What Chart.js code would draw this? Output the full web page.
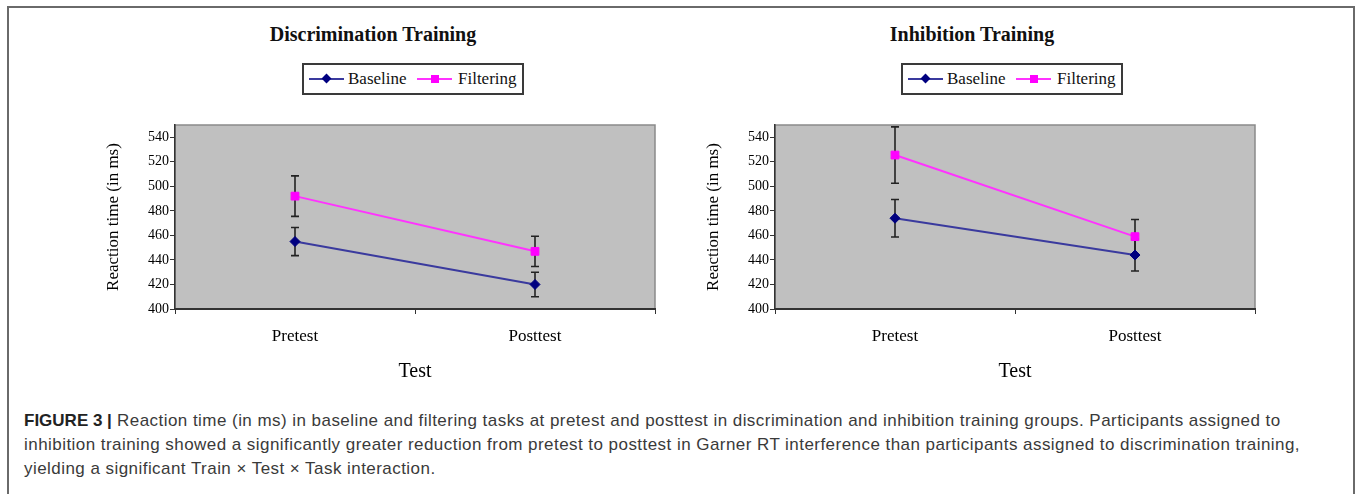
<!DOCTYPE html>
<html>
<head>
<meta charset="utf-8">
<script src="https://cdn.jsdelivr.net/npm/chart.js@4.4.0/dist/chart.umd.min.js"></script>
<style>
  html, body { margin: 0; padding: 0; background: #fff; }
  body { width: 1357px; height: 494px; position: relative; overflow: hidden; }
  .frame { position: absolute; left: 7px; top: 6px; width: 1348px; height: 540px; border: 2px solid #6a6a6a; box-sizing: border-box; }
  .plot { position: absolute; top: 110px; }
  .title { position: absolute; top: 23px; font: bold 20px "Liberation Serif", serif; line-height: 22px; color: #111; white-space: nowrap; transform: translateX(-50%); }
  .legend { position: absolute; top: 63px; width: 222px; height: 32px; border: 2px solid #3a3a3a; box-sizing: border-box; font: 17px "Liberation Serif", serif; color: #111; }
  .legend span { position: absolute; top: 4px; line-height: 20px; white-space: nowrap; }
  .legend .ln { position: absolute; top: 13px; height: 2px; width: 35px; }
  .legend .mk { position: absolute; }
  .caption { position: absolute; left: 24px; top: 409px; font: 17px "Liberation Sans", Arial, sans-serif; letter-spacing: 0.45px; line-height: 24px; color: #3a3a3a; white-space: nowrap; }
  .caption b { color: #222; letter-spacing: 0; }
</style>
</head>
<body>
<div class="frame"></div>

<div class="title" style="left:373px">Discrimination Training</div>
<div class="title" style="left:972px">Inhibition Training</div>

<div class="legend" style="left:302px">
  <div class="ln" style="left:5px;background:#3a3a9e"></div>
  <div class="mk" style="left:19px;top:10px;width:7px;height:7px;background:#000080;transform:rotate(45deg)"></div>
  <span style="left:44px">Baseline</span>
  <div class="ln" style="left:113px;background:#ff33ff"></div>
  <div class="mk" style="left:127px;top:10px;width:8px;height:8px;background:#ff00ff"></div>
  <span style="left:154px">Filtering</span>
</div>
<div class="legend" style="left:901px">
  <div class="ln" style="left:5px;background:#3a3a9e"></div>
  <div class="mk" style="left:19px;top:10px;width:7px;height:7px;background:#000080;transform:rotate(45deg)"></div>
  <span style="left:44px">Baseline</span>
  <div class="ln" style="left:113px;background:#ff33ff"></div>
  <div class="mk" style="left:127px;top:10px;width:8px;height:8px;background:#ff00ff"></div>
  <span style="left:154px">Filtering</span>
</div>

<canvas id="discrimination" class="plot" width="585" height="280" style="left:95px"></canvas>
<canvas id="inhibition" class="plot" width="585" height="280" style="left:695px"></canvas>

<div class="caption">
  <b>FIGURE 3 |</b> Reaction time (in ms) in baseline and filtering tasks at pretest and posttest in discrimination and inhibition training groups. Participants assigned to<br>
  inhibition training showed a significantly greater reduction from pretest to posttest in Garner RT interference than participants assigned to discrimination training,<br>
  yielding a significant Train &times; Test &times; Task interaction.
</div>

<script>
// dane (ms)
const categories = ['Pretest', 'Posttest'];
const yTicks = [400, 420, 440, 460, 480, 500, 520, 540];

const discBaseline = [455, 420];
const discBaselineErr = [11.5, 10];
const discFiltering = [492, 447];
const discFilteringErr = [16.5, 12.3];

const inhBaseline = [474, 444];
const inhBaselineErr = [15.3, 13];
const inhFiltering = [525.5, 459];
const inhFilteringErr = [23, 14];

const SERIF = '"Liberation Serif", "Times New Roman", serif';

// szare tlo obszaru wykresu
const plotBackground = {
    id: 'plotBackground',
    beforeDraw(chart) {
        const { ctx, chartArea: a } = chart;
        ctx.save();
        ctx.fillStyle = '#c0c0c0';
        ctx.fillRect(a.left, a.top, a.right - a.left, a.bottom - a.top);
        ctx.strokeStyle = '#8a8a8a';
        ctx.lineWidth = 1.5;
        ctx.strokeRect(a.left, a.top, a.right - a.left, a.bottom - a.top);
        ctx.restore();
    }
};

// slupki bledow (+/-) rysowane przez skale osi y
const errorBars = {
    id: 'errorBars',
    beforeDatasetsDraw(chart) {
        const ctx = chart.ctx;
        const y = chart.scales.y;
        ctx.save();
        ctx.strokeStyle = '#222';
        ctx.lineWidth = 1.6;
        chart.data.datasets.forEach((ds, i) => {
            chart.getDatasetMeta(i).data.forEach((pt, j) => {
                const top = y.getPixelForValue(ds.data[j] + ds.errors[j]);
                const bottom = y.getPixelForValue(ds.data[j] - ds.errors[j]);
                ctx.beginPath();
                ctx.moveTo(pt.x, top);
                ctx.lineTo(pt.x, bottom);
                ctx.moveTo(pt.x - 4, top);
                ctx.lineTo(pt.x + 4, top);
                ctx.moveTo(pt.x - 4, bottom);
                ctx.lineTo(pt.x + 4, bottom);
                ctx.stroke();
            });
        });
        ctx.restore();
    }
};

function makeChart(id, baseline, baselineErr, filtering, filteringErr) {
    const ctx = document.getElementById(id).getContext('2d');
    return new Chart(ctx, {
        type: 'line',
        data: {
            labels: categories,
            datasets: [{
                label: 'Baseline',
                data: baseline,
                errors: baselineErr,
                borderColor: '#3a3a9e',
                borderWidth: 2,
                pointStyle: 'rectRot',
                pointRadius: 5,
                pointBackgroundColor: '#000080',
                pointBorderColor: '#000080',
                pointBorderWidth: 1
            }, {
                label: 'Filtering',
                data: filtering,
                errors: filteringErr,
                borderColor: '#ff33ff',
                borderWidth: 2,
                pointStyle: 'rect',
                pointRadius: 5.5,
                pointBackgroundColor: '#ff00ff',
                pointBorderColor: '#ff00ff',
                pointBorderWidth: 1
            }]
        },
        options: {
            responsive: false,
            animation: false,
            devicePixelRatio: 1,
            layout: { padding: { top: 15, right: 25, bottom: 0, left: 0 } },
            plugins: {
                legend: { display: false },
                tooltip: { enabled: false }
            },
            scales: {
                x: {
                    offset: true,
                    grid: { offset: true, drawOnChartArea: false, tickLength: 5, color: '#333' },
                    border: { color: '#333', width: 2 },
                    ticks: { color: '#000', padding: 12, font: { family: SERIF, size: 17 } },
                    title: {
                        display: true,
                        text: 'Test',
                        color: '#000',
                        font: { family: SERIF, size: 20 },
                        padding: { top: 0, bottom: 6 }
                    },
                    afterFit: s => { s.height = 81; }
                },
                y: {
                    min: 400,
                    max: 550,
                    afterBuildTicks: s => { s.ticks = yTicks.map(v => ({ value: v })); },
                    grid: { drawOnChartArea: false, tickLength: 5, color: '#333' },
                    border: { color: '#333', width: 1.5 },
                    ticks: { color: '#000', padding: 1, font: { family: SERIF, size: 14 } },
                    title: {
                        display: true,
                        text: 'Reaction time (in ms)',
                        color: '#000',
                        font: { family: SERIF, size: 17 },
                        padding: { top: 8, bottom: 0 }
                    },
                    afterFit: s => { s.width = 80; }
                }
            }
        },
        plugins: [plotBackground, errorBars]
    });
}

makeChart('discrimination', discBaseline, discBaselineErr, discFiltering, discFilteringErr);
makeChart('inhibition', inhBaseline, inhBaselineErr, inhFiltering, inhFilteringErr);
</script>
</body>
</html>
